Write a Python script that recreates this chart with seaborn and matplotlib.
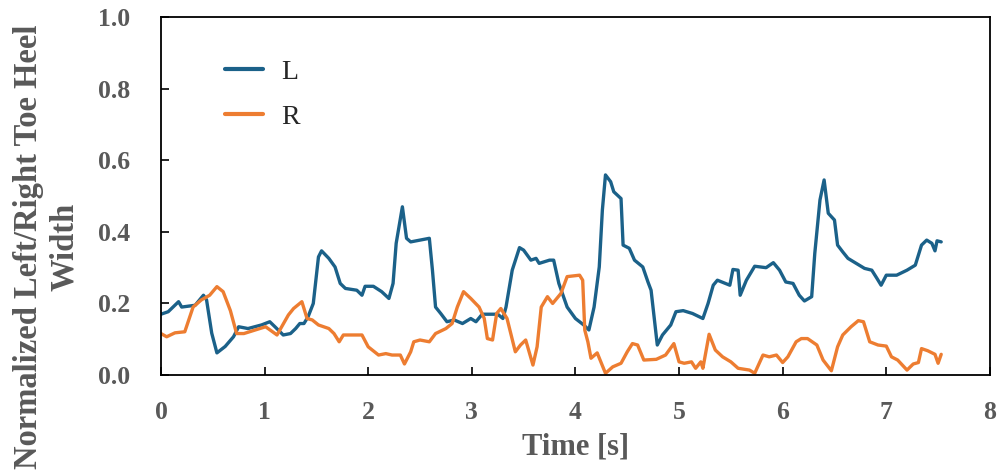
import matplotlib
matplotlib.use("Agg")
import matplotlib.pyplot as plt
import seaborn as sns
import pandas as pd

# ---- data ----
t_L = [0.00, 0.07, 0.17, 0.20, 0.33, 0.41, 0.44, 0.49, 0.54, 0.62, 0.70, 0.75, 0.84, 0.97,
       1.05, 1.10, 1.18, 1.25, 1.30, 1.34, 1.38, 1.42, 1.47, 1.52, 1.55, 1.62, 1.68, 1.73,
       1.78, 1.89, 1.94, 1.97, 2.05, 2.13, 2.20, 2.24, 2.27, 2.33, 2.37, 2.41, 2.50, 2.59,
       2.62, 2.65, 2.70, 2.76, 2.83, 2.91, 2.99, 3.04, 3.10, 3.25, 3.30, 3.33, 3.39, 3.46,
       3.50, 3.57, 3.62, 3.65, 3.75, 3.79, 3.84, 3.92, 4.00, 4.08, 4.13, 4.18, 4.23, 4.26,
       4.29, 4.34, 4.37, 4.44, 4.46, 4.52, 4.57, 4.65, 4.70, 4.73, 4.79, 4.84, 4.92, 4.97,
       5.04, 5.13, 5.23, 5.28, 5.33, 5.37, 5.49, 5.52, 5.57, 5.59, 5.65, 5.73, 5.84, 5.91,
       5.97, 6.03, 6.10, 6.16, 6.21, 6.28, 6.31, 6.36, 6.40, 6.44, 6.50, 6.53, 6.58, 6.63,
       6.71, 6.79, 6.86, 6.91, 6.95, 7.00, 7.10, 7.20, 7.28, 7.34, 7.39, 7.44, 7.47, 7.49,
       7.53]
v_L = [0.170, 0.177, 0.205, 0.190, 0.195, 0.223, 0.210, 0.117, 0.062, 0.080, 0.107, 0.135,
       0.130, 0.140, 0.149, 0.135, 0.112, 0.116, 0.130, 0.144, 0.144, 0.163, 0.200, 0.330,
       0.347, 0.326, 0.302, 0.256, 0.242, 0.237, 0.223, 0.248, 0.248, 0.233, 0.214, 0.256,
       0.368, 0.470, 0.382, 0.372, 0.377, 0.382, 0.293, 0.190, 0.172, 0.149, 0.154, 0.144,
       0.158, 0.149, 0.170, 0.170, 0.158, 0.190, 0.293, 0.356, 0.349, 0.321, 0.326, 0.312,
       0.321, 0.321, 0.256, 0.190, 0.158, 0.140, 0.126, 0.190, 0.302, 0.461, 0.559, 0.540,
       0.512, 0.493, 0.363, 0.354, 0.321, 0.302, 0.260, 0.237, 0.084, 0.112, 0.140, 0.177,
       0.180, 0.172, 0.158, 0.200, 0.251, 0.265, 0.251, 0.295, 0.293, 0.223, 0.265, 0.304,
       0.300, 0.314, 0.293, 0.260, 0.256, 0.223, 0.207, 0.219, 0.340, 0.489, 0.545, 0.452,
       0.433, 0.363, 0.344, 0.326, 0.312, 0.298, 0.293, 0.270, 0.251, 0.279, 0.279, 0.293,
       0.307, 0.363, 0.377, 0.368, 0.347, 0.375, 0.372]

t_R = [0.00, 0.055, 0.135, 0.23, 0.31, 0.39, 0.47, 0.54, 0.60, 0.67, 0.73, 0.80, 0.91, 1.01,
       1.12, 1.23, 1.28, 1.36, 1.41, 1.46, 1.52, 1.62, 1.67, 1.72, 1.76, 1.94, 2.00, 2.10,
       2.17, 2.23, 2.31, 2.35, 2.41, 2.44, 2.50, 2.59, 2.65, 2.75, 2.81, 2.86, 2.92, 2.99,
       3.07, 3.12, 3.15, 3.20, 3.24, 3.28, 3.34, 3.42, 3.47, 3.52, 3.59, 3.63, 3.67, 3.73,
       3.78, 3.86, 3.92, 4.04, 4.07, 4.09, 4.12, 4.15, 4.21, 4.29, 4.36, 4.44, 4.50, 4.55,
       4.60, 4.66, 4.78, 4.87, 4.95, 5.00, 5.05, 5.12, 5.16, 5.21, 5.23, 5.29, 5.35, 5.42,
       5.50, 5.57, 5.68, 5.73, 5.81, 5.87, 5.94, 6.00, 6.05, 6.13, 6.18, 6.24, 6.33, 6.39,
       6.47, 6.53, 6.58, 6.66, 6.73, 6.78, 6.84, 6.92, 7.00, 7.05, 7.11, 7.20, 7.26, 7.31,
       7.34, 7.40, 7.47, 7.50, 7.53]
v_R = [0.116, 0.107, 0.118, 0.121, 0.190, 0.210, 0.223, 0.247, 0.233, 0.180, 0.116, 0.116,
       0.126, 0.135, 0.112, 0.168, 0.186, 0.205, 0.158, 0.154, 0.140, 0.130, 0.116, 0.093,
       0.112, 0.112, 0.079, 0.056, 0.060, 0.056, 0.056, 0.031, 0.065, 0.093, 0.098, 0.093,
       0.116, 0.130, 0.144, 0.190, 0.233, 0.214, 0.190, 0.158, 0.102, 0.098, 0.172, 0.186,
       0.158, 0.065, 0.084, 0.098, 0.028, 0.079, 0.190, 0.219, 0.200, 0.228, 0.275, 0.279,
       0.265, 0.126, 0.093, 0.047, 0.062, 0.005, 0.023, 0.033, 0.065, 0.088, 0.084, 0.042,
       0.044, 0.056, 0.088, 0.037, 0.033, 0.037, 0.019, 0.037, 0.019, 0.114, 0.070, 0.051,
       0.037, 0.019, 0.014, 0.005, 0.056, 0.051, 0.056, 0.035, 0.051, 0.093, 0.102, 0.102,
       0.084, 0.042, 0.012, 0.079, 0.112, 0.135, 0.152, 0.149, 0.093, 0.084, 0.081, 0.051,
       0.042, 0.014, 0.031, 0.035, 0.074, 0.068, 0.058, 0.033, 0.058]

series_names = ["L", "R"]
x_ticks = [0, 1, 2, 3, 4, 5, 6, 7, 8]
y_ticks = [0.0, 0.2, 0.4, 0.6, 0.8, 1.0]

df = pd.concat([
    pd.DataFrame({"t": t_L, "v": v_L, "series": series_names[0]}),
    pd.DataFrame({"t": t_R, "v": v_R, "series": series_names[1]}),
], ignore_index=True)

sns.set_style("ticks")
plt.rcParams["font.family"] = ["Liberation Serif", "DejaVu Serif"]

fig = plt.figure(figsize=(10.06, 4.73), dpi=100)
ax = fig.add_axes([0.160, 0.207, 0.824, 0.757])

palette = {"L": "#1b6189", "R": "#ed7d31"}
sns.lineplot(data=df, x="t", y="v", hue="series", palette=palette,
             linewidth=2.4, sort=False, estimator=None, ax=ax)

ax.set_xlim(0, 8)
ax.set_ylim(0, 1.0)
ax.set_xticks(x_ticks)
ax.set_yticks(y_ticks)
ax.set_xticklabels([str(v) for v in x_ticks])
ax.set_yticklabels([f"{v:.1f}" for v in y_ticks])

gray = "#595959"
ax.tick_params(axis="both", direction="in", length=6, width=1.2, color="black",
               labelcolor=gray, labelsize=18.5)
ax.tick_params(axis="y", pad=22)
ax.tick_params(axis="x", pad=19)
for lbl in ax.get_xticklabels() + ax.get_yticklabels():
    lbl.set_fontweight("bold")

for s in ax.spines.values():
    s.set_visible(True)
    s.set_color("black")
    s.set_linewidth(1.3)

ax.set_xlabel("Time [s]", fontsize=22, fontweight="bold", color=gray, labelpad=6)
ax.set_ylabel("Normalized Left/Right Toe Heel\nWidth", fontsize=23.5,
              fontweight="bold", color=gray, ha="center")
ax.yaxis.set_label_coords(-0.098, 0.357)

leg = ax.legend(loc="center left", bbox_to_anchor=(0.2237, 0.800),
                bbox_transform=fig.transFigure, frameon=False, fontsize=20,
                borderpad=0, borderaxespad=0, handlelength=1.35,
                handletextpad=0.68, labelspacing=0.7, title=None)
for line in leg.get_lines():
    line.set_linewidth(3)

fig.savefig("out.png", dpi=100)
